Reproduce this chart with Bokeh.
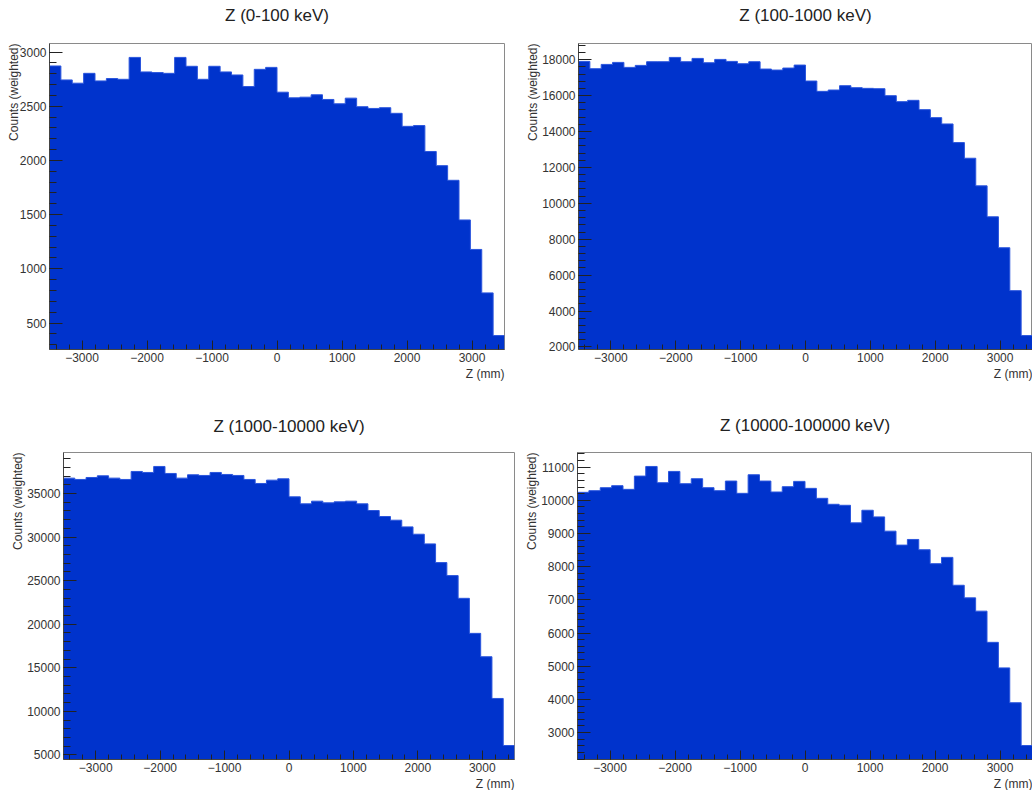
from bokeh.plotting import figure
from bokeh.models import FixedTicker, Range1d, Title, LinearAxis
from bokeh.layouts import column, row
from bokeh.embed import file_html
from bokeh.resources import INLINE

# ---------------- data ----------------
bin_edges = list(range(-3500, 3501, 175))   # 40 bins of 175 mm

titles = ["Z (0-100 keV)", "Z (100-1000 keV)", "Z (1000-10000 keV)", "Z (10000-100000 keV)"]

counts_0_100 = [2872, 2743, 2713, 2804, 2734, 2756, 2749, 2951, 2817, 2811,
                2804, 2951, 2869, 2749, 2869, 2817, 2789, 2682, 2841, 2859,
                2630, 2578, 2584, 2606, 2563, 2523, 2575, 2496, 2480, 2487,
                2435, 2315, 2322, 2083, 1952, 1817, 1451, 1179, 778, 384]

counts_100_1000 = [17907, 17500, 17740, 17852, 17574, 17685, 17889, 17889, 18130, 17889,
                   18074, 17833, 18018, 17907, 17778, 17889, 17481, 17425, 17537, 17703,
                   16813, 16239, 16313, 16554, 16443, 16406, 16387, 15998, 15664, 15738,
                   15219, 14774, 14422, 13384, 12512, 10973, 9249, 7525, 5133, 2630]

counts_1000_10000 = [36762, 36609, 36838, 37030, 36762, 36609, 37528, 37413, 38102, 37298,
                     36762, 37145, 37068, 37413, 37183, 37068, 36609, 36149, 36530, 36685,
                     34617, 33813, 34119, 33928, 34043, 34119, 33813, 33047, 32357, 31936,
                     31170, 30327, 29217, 27072, 25578, 22974, 18952, 16271, 11484, 6083]

counts_10000_100000 = [10240, 10290, 10380, 10440, 10330, 10730, 11020, 10530, 10870, 10500,
                       10650, 10380, 10290, 10580, 10210, 10770, 10580, 10250, 10410, 10570,
                       10360, 10060, 9880, 9850, 9320, 9700, 9500, 9070, 8650, 8820,
                       8510, 8090, 8280, 7440, 7060, 6660, 5720, 4950, 3900, 2610]

x_major_ticks = [-3000, -2000, -1000, 0, 1000, 2000, 3000]
x_minor_ticks = list(range(-3400, 3401, 200))

y_major_ticks = [
    [500, 1000, 1500, 2000, 2500, 3000],
    [2000, 4000, 6000, 8000, 10000, 12000, 14000, 16000, 18000],
    [5000, 10000, 15000, 20000, 25000, 30000, 35000],
    [3000, 4000, 5000, 6000, 7000, 8000, 9000, 10000, 11000],
]
y_minor_steps = [100, 400, 1000, 200]

x_title = "Z (mm)"
y_title = "Counts (weighted)"

FILL = "#0033cc"
FONT = "Liberation Sans"


def make_panel(title, counts, ymajor, ystep, width, height, bl, br, bt, bb,
               ylab_standoff, title_standoff):
    lo, hi = min(counts), max(counts)
    margin = 0.05 * (hi - lo)
    y0, y1 = lo - margin, hi + margin
    p = figure(width=width, height=height,
               x_range=Range1d(bin_edges[0], bin_edges[-1]),
               y_range=Range1d(y0, y1),
               output_backend="svg", toolbar_location=None,
               min_border_left=bl, min_border_right=br,
               min_border_top=bt, min_border_bottom=bb)
    p.background_fill_color = "white"
    p.border_fill_color = "white"
    p.outline_line_color = "#8a8a8a"
    p.outline_line_width = 1
    p.xgrid.visible = False
    p.ygrid.visible = False

    # histogram as one filled step area
    p.varea_step(x=bin_edges, y1=[0] * len(bin_edges), y2=counts + [counts[-1]],
                 step_mode="after", fill_color=FILL)
    p.step(x=bin_edges, y=counts + [counts[-1]], mode="after",
           line_color="#2a55dd", line_width=1)

    yminor = [v for v in range(int(ymajor[0] - 10 * ystep), int(y1) + 1, ystep)
              if y0 <= v <= y1]
    p.xaxis.ticker = FixedTicker(ticks=x_major_ticks, minor_ticks=x_minor_ticks)
    p.yaxis.ticker = FixedTicker(ticks=ymajor, minor_ticks=yminor)

    for ax in (p.xaxis[0], p.yaxis[0]):
        ax.axis_line_color = "#444444"
        ax.major_tick_line_color = "#222222"
        ax.minor_tick_line_color = "#222222"
        ax.major_tick_out = 0
        ax.minor_tick_out = 0
        ax.major_label_text_font = FONT
        ax.major_label_text_font_size = "12px"
        ax.major_label_text_color = "#333333"
        ax.major_label_standoff = 3
    p.xaxis.major_tick_in = 9
    p.xaxis.minor_tick_in = 5
    p.yaxis.major_tick_in = 13
    p.yaxis.minor_tick_in = 7

    # title as the label of an empty axis above the frame
    top = LinearAxis(ticker=FixedTicker(ticks=[]), axis_label=title,
                     axis_line_color=None, major_tick_line_color=None,
                     minor_tick_line_color=None, major_tick_out=0, minor_tick_out=0,
                     major_label_text_font_size="0px",
                     axis_label_standoff=title_standoff, axis_label_text_font=FONT,
                     axis_label_text_font_size="17px",
                     axis_label_text_font_style="normal",
                     axis_label_text_color="#222222")
    p.add_layout(top, "above")
    p.add_layout(Title(text=x_title, align="right", text_font=FONT,
                       text_font_size="12px", text_font_style="normal",
                       text_color="#333333", standoff=0), "below")
    p.add_layout(Title(text=y_title, align="right", text_font=FONT,
                       text_font_size="12px", text_font_style="normal",
                       text_color="#333333", standoff=ylab_standoff), "left")
    return p


p1 = make_panel(titles[0], counts_0_100, y_major_ticks[0], y_minor_steps[0],
                520, 410, 49, 16, 43, 59, -8, 19)
p2 = make_panel(titles[1], counts_100_1000, y_major_ticks[1], y_minor_steps[1],
                512, 410, 58, 0, 43, 61, 0, 19)
p3 = make_panel(titles[2], counts_1000_10000, y_major_ticks[2], y_minor_steps[2],
                520, 380, 63, 6, 42, 31, 0, 17)
p4 = make_panel(titles[3], counts_10000_100000, y_major_ticks[3], y_minor_steps[3],
                512, 380, 57, 0, 41, 31, 0, 18)

layout = column(row(p1, p2), row(p3, p4))
open("out.html", "w").write(file_html(layout, INLINE))
